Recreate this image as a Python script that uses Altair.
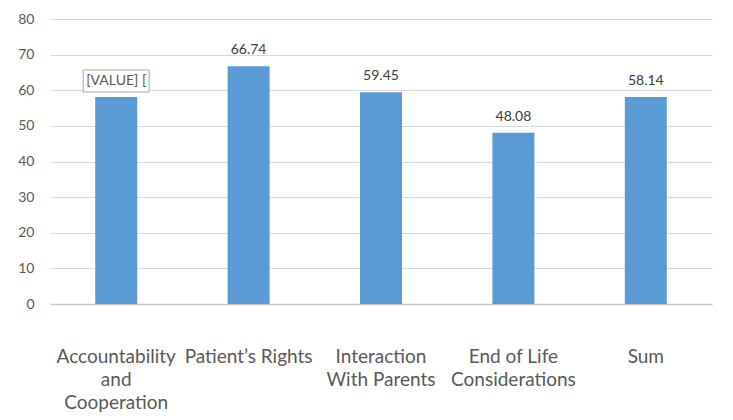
import altair as alt
import pandas as pd

categories = ["Accountability and Cooperation", "Patient\u2019s Rights", "Interaction With Parents",
              "End of Life Considerations", "Sum"]
label_lines = [["Accountability", "and", "Cooperation"], ["Patient\u2019s Rights"],
               ["Interaction", "With Parents"], ["End of Life", "Considerations"], ["Sum"]]
values = [58.1, 66.74, 59.45, 48.08, 58.14]
value_labels = ["[VALUE] [", "66.74", "59.45", "48.08", "58.14"]
y_ticks = [0, 10, 20, 30, 40, 50, 60, 70, 80]

df = pd.DataFrame({"cat": categories, "value": values, "label": value_labels})

FONT = "Lato"

label_expr = ""
for c, lines in zip(categories, label_lines):
    arr = "[" + ",".join("'" + l.replace("'", "\\'") + "'" for l in lines) + "]"
    label_expr += f"datum.value == '{c}' ? {arr} : "
label_expr += "datum.value"

x = alt.X("cat:N", sort=categories, title=None,
          scale=alt.Scale(paddingInner=0, paddingOuter=0),
          axis=alt.Axis(labelAngle=0, labelExpr=label_expr, labelFont=FONT, labelFontSize=19,
                        labelColor="#595959", labelLineHeight=23, labelBaseline="top",
                        labelPadding=43, ticks=False, domainColor="#c9c9c9", domainWidth=1.5,
                        labelLimit=0, labelOverlap=False, grid=False))
y = alt.Y("value:Q", title=None,
          scale=alt.Scale(domain=[0, 80], nice=False),
          axis=alt.Axis(values=y_ticks, labelFont=FONT, labelFontSize=14,
                        labelColor="#595959", labelPadding=16, ticks=False, domain=False,
                        grid=True, gridColor="#d9d9d9", gridWidth=1.2, labelOverlap=False))

base = alt.Chart(df).encode(x=x, y=y)
bars = base.mark_bar(width=42, color="#5B9BD5")

plain = base.transform_filter("datum.label != '[VALUE] ['").mark_text(
    font=FONT, fontSize=14, color="#404040", baseline="alphabetic", dy=-12
).encode(text="label:N")

boxed = base.transform_filter("datum.label == '[VALUE] ['")
box = boxed.mark_point(
    shape="M-1,-0.3333L1,-0.3333L1,0.3333L-1,0.3333Z", size=4356, filled=True,
    fill="white", stroke="#a6a6a6", strokeWidth=1, opacity=1, yOffset=-16
)
boxtext = boxed.mark_text(
    font=FONT, fontSize=14, color="#595959", baseline="middle", dy=-16
).encode(text="label:N")

chart = alt.layer(bars, plain, box, boxtext).properties(
    width=662, height=285,
    autosize=alt.AutoSizeParams(type="none"),
    padding={"left": 42, "top": 11, "right": 13, "bottom": 108},
).configure(background="white", view=alt.ViewConfig(strokeWidth=0, stroke="transparent"))

chart.save("out.html", embed_options={"renderer": "svg", "actions": False})
